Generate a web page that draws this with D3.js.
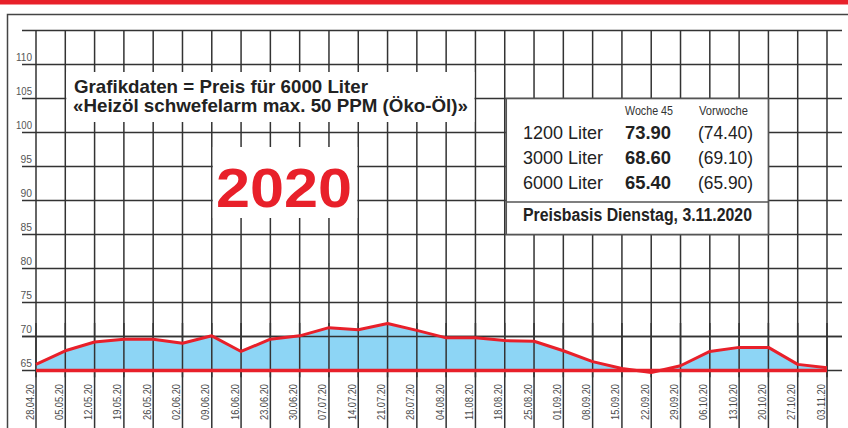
<!DOCTYPE html>
<html>
<head>
<meta charset="utf-8">
<script src="https://cdn.jsdelivr.net/npm/d3@7"></script>
<style>
  html, body { margin: 0; padding: 0; background: #fff; }
  svg { display: block; font-family: "Liberation Sans", Arial, sans-serif; }
</style>
</head>
<body>
<svg id="chart" width="848" height="428"></svg>
<script>
// weekly dates (x axis)
const dates = ["28.04.20", "05.05.20", "12.05.20", "19.05.20", "26.05.20", "02.06.20", "09.06.20",
  "16.06.20", "23.06.20", "30.06.20", "07.07.20", "14.07.20", "21.07.20", "28.07.20", "04.08.20",
  "11.08.20", "18.08.20", "25.08.20", "01.09.20", "08.09.20", "15.09.20", "22.09.20", "29.09.20",
  "06.10.20", "13.10.20", "20.10.20", "27.10.20", "03.11.20"];

// price for 6000 litres
const prices = [65.9, 67.9, 69.2, 69.6, 69.6, 69.0, 70.1, 67.8, 69.6, 70.1, 71.3, 71.0, 71.9, 70.9,
  69.8, 69.8, 69.4, 69.3, 67.9, 66.3, 65.3, 64.7, 65.7, 67.8, 68.4, 68.4, 65.9, 65.4];

const gridValues = [65, 70, 75, 80, 85, 90, 95, 100, 105, 110, 115];
const labelValues = [65, 70, 75, 80, 85, 90, 95, 100, 105, 110];

const legendHeader = ["Woche 45", "Vorwoche"];
const legendSizes = ["1200 Liter", "3000 Liter", "6000 Liter"];
const legendThisWeek = ["73.90", "68.60", "65.40"];
const legendLastWeek = ["(74.40)", "(69.10)", "(65.90)"];

const svg = d3.select('#chart');
const red = '#e8202a';
const gridColour = '#333';

const x = d3.scalePoint().domain(dates).range([36, 827]);
const y = d3.scaleLinear().domain([65, 115]).range([370.5, 30.5]);

// top red band and frame
svg.append('rect').attr('x', 0).attr('y', 0).attr('width', 848).attr('height', 4.5).attr('fill', red);
svg.append('path')
  .attr('d', 'M7.5,428 V14.5 H848')
  .attr('fill', 'none').attr('stroke', '#444').attr('stroke-width', 1.5);

// grid
const grid = svg.append('g').attr('class', 'grid');
grid.selectAll('.hline').data(gridValues).join('line')
  .attr('class', 'hline')
  .attr('x1', 22).attr('x2', 842)
  .attr('y1', d => y(d)).attr('y2', d => y(d))
  .attr('stroke', gridColour).attr('stroke-width', 1.5);

grid.selectAll('.vline').data(dates).join('line')
  .attr('class', 'vline')
  .attr('x1', d => x(d)).attr('x2', d => x(d))
  .attr('y1', y(115)).attr('y2', 428)
  .attr('stroke', gridColour).attr('stroke-width', 1.5);

// y labels
svg.append('g').selectAll('text').data(labelValues).join('text')
  .attr('x', 32).attr('y', d => y(d) - 3.5)
  .attr('text-anchor', 'end')
  .attr('font-size', 11)
  .attr('fill', '#555')
  .attr('textLength', d => String(d).length === 3 ? 16 : 11.5)
  .attr('lengthAdjust', 'spacingAndGlyphs')
  .text(d => d);

// x labels
svg.append('g').selectAll('text').data(dates).join('text')
  .attr('transform', d => `translate(${x(d) - 2.5},420) rotate(-90)`)
  .attr('font-size', 10.5)
  .attr('fill', '#4a4a4a')
  .attr('textLength', 36).attr('lengthAdjust', 'spacingAndGlyphs')
  .text(d => d);

// area + line
const area = d3.area()
  .x((d, i) => x(dates[i]))
  .y0(y(65))
  .y1(d => y(d));
const line = d3.line()
  .x((d, i) => x(dates[i]))
  .y(d => y(d));

svg.append('path').datum(prices)
  .attr('d', area)
  .attr('fill', '#8dd5f5');

// re-draw grid over the fill
svg.append('g').selectAll('line').data(dates).join('line')
  .attr('x1', d => x(d)).attr('x2', d => x(d))
  .attr('y1', y(72)).attr('y2', y(64))
  .attr('stroke', gridColour).attr('stroke-width', 1.5);
svg.append('line')
  .attr('x1', 22).attr('x2', 842).attr('y1', y(70)).attr('y2', y(70))
  .attr('stroke', gridColour).attr('stroke-width', 1.5);

svg.append('line')
  .attr('x1', x(dates[0])).attr('x2', x(dates[dates.length - 1]))
  .attr('y1', y(65)).attr('y2', y(65))
  .attr('stroke', red).attr('stroke-width', 3.5);

svg.append('path').datum(prices)
  .attr('d', line)
  .attr('fill', 'none')
  .attr('stroke', red).attr('stroke-width', 3)
  .attr('stroke-linejoin', 'round');

// title box
const tx0 = x('05.05.20') + 1, tx1 = x('11.08.20') - 1;
svg.append('rect')
  .attr('x', tx0).attr('y', 72).attr('width', tx1 - tx0).attr('height', 50)
  .attr('fill', '#fff');
const title = svg.append('g')
  .attr('font-weight', 'bold').attr('font-size', 18.5).attr('fill', '#222');
title.append('text').attr('x', 74).attr('y', 93)
  .attr('textLength', 294).attr('lengthAdjust', 'spacingAndGlyphs')
  .text('Grafikdaten = Preis für 6000 Liter');
title.append('text').attr('x', 73).attr('y', 112)
  .attr('textLength', 395).attr('lengthAdjust', 'spacingAndGlyphs')
  .text('«Heizöl schwefelarm max. 50 PPM (Öko-Öl)»');

// year box
const yx0 = x('09.06.20') + 1, yx1 = x('14.07.20') - 1;
svg.append('rect')
  .attr('x', yx0).attr('y', 147).attr('width', yx1 - yx0).attr('height', 71)
  .attr('fill', '#fff');
svg.append('text')
  .attr('x', 216).attr('y', 207)
  .attr('font-size', 56).attr('font-weight', 'bold').attr('fill', red)
  .attr('textLength', 136).attr('lengthAdjust', 'spacingAndGlyphs')
  .text('2020');

// legend box
const lx0 = x('18.08.20'), lx1 = x('20.10.20');
const ly0 = y(105), ly1 = y(85);
const legend = svg.append('g');
legend.append('rect')
  .attr('x', lx0 + 1.5).attr('y', ly0).attr('width', lx1 - lx0 - 1.5).attr('height', ly1 - ly0)
  .attr('fill', '#fff').attr('stroke', '#555').attr('stroke-width', 1.6);
legend.append('line')
  .attr('x1', lx0 + 1.5).attr('x2', lx1).attr('y1', 202).attr('y2', 202)
  .attr('stroke', '#555').attr('stroke-width', 1.6);

legend.selectAll('.head').data(legendHeader).join('text')
  .attr('class', 'head')
  .attr('x', (d, i) => [649, 723.5][i]).attr('y', 115)
  .attr('text-anchor', 'middle')
  .attr('font-size', 12).attr('fill', '#333')
  .attr('textLength', (d, i) => [48, 49][i]).attr('lengthAdjust', 'spacingAndGlyphs')
  .text(d => d);

const rowY = [138.5, 163.5, 189];
legend.selectAll('.size').data(legendSizes).join('text')
  .attr('class', 'size')
  .attr('x', 523).attr('y', (d, i) => rowY[i])
  .attr('font-size', 19).attr('fill', '#222')
  .attr('textLength', 80).attr('lengthAdjust', 'spacingAndGlyphs')
  .text(d => d);
legend.selectAll('.now').data(legendThisWeek).join('text')
  .attr('class', 'now')
  .attr('x', 625).attr('y', (d, i) => rowY[i])
  .attr('font-size', 19).attr('font-weight', 'bold').attr('fill', '#222')
  .attr('textLength', 46).attr('lengthAdjust', 'spacingAndGlyphs')
  .text(d => d);
legend.selectAll('.prev').data(legendLastWeek).join('text')
  .attr('class', 'prev')
  .attr('x', 698).attr('y', (d, i) => rowY[i])
  .attr('font-size', 19).attr('fill', '#222')
  .attr('textLength', 55).attr('lengthAdjust', 'spacingAndGlyphs')
  .text(d => d);

legend.append('text')
  .attr('x', 523).attr('y', 221)
  .attr('font-size', 17.5).attr('font-weight', 'bold').attr('fill', '#222')
  .attr('textLength', 229).attr('lengthAdjust', 'spacingAndGlyphs')
  .text('Preisbasis Dienstag, 3.11.2020');
</script>
</body>
</html>
